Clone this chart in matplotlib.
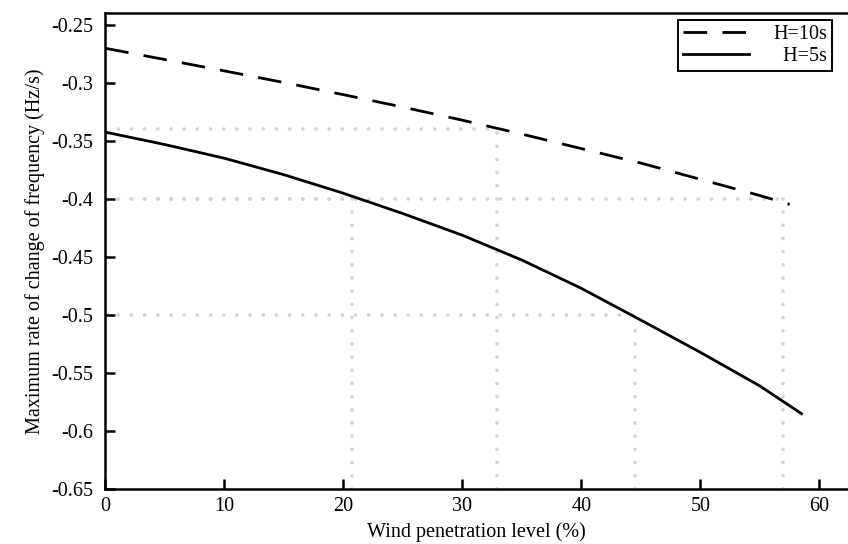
import matplotlib
matplotlib.use('Agg')
import matplotlib.pyplot as plt

# wind penetration level (%)
x_h10 = [0, 5, 10, 15, 20, 25, 30, 35, 40, 45, 50, 55, 57.5]
y_h10 = [-0.270, -0.2797, -0.2895, -0.2995, -0.310, -0.3207, -0.332,
         -0.344, -0.3565, -0.369, -0.383, -0.397, -0.4046]

x_h5 = [0, 5, 10, 15, 20, 25, 30, 35, 40, 45, 50, 55, 58.5]
y_h5 = [-0.3423, -0.3530, -0.3648, -0.3790, -0.3950, -0.4125, -0.4312,
        -0.4526, -0.4770, -0.5044, -0.5322, -0.5612, -0.5851]

# reference read-offs (x, y)
ref_x = [20.7, 32.9, 44.5, 56.9]
ref_y = [-0.40, -0.34, -0.50, -0.40]

plt.rcParams['font.family'] = ['Liberation Serif', 'DejaVu Serif']
plt.rcParams['font.size'] = 14.5

fig = plt.figure(figsize=(8.48, 5.44), dpi=100)
ax = fig.add_axes([0.1242, 0.1011, 0.8758, 0.8756])

ymin = -0.65
for xr, yr in zip(ref_x, ref_y):
    ax.plot([0, xr], [yr, yr], color='#d3d3d3', lw=2.6, linestyle=(0, (0.05, 3.6)),
            dash_capstyle='round', zorder=1)
    ax.plot([xr, xr], [ymin, yr], color='#d3d3d3', lw=2.6, linestyle=(0, (0.05, 3.6)),
            dash_capstyle='round', zorder=1)

l1, = ax.plot(x_h10, y_h10, color='black', lw=2, label='H=10s', zorder=3)
l1.set_dashes((8.5, 5.5))
ax.plot(x_h5, y_h5, color='black', lw=2, label='\u2007H=5s', zorder=3)

ax.set_xlim(0, 62.4)
ax.set_ylim(-0.65, -0.2393)
ax.set_xticks([0, 10, 20, 30, 40, 50, 60])
ax.set_yticks([-0.65, -0.6, -0.55, -0.5, -0.45, -0.4, -0.35, -0.3, -0.25])
ax.set_yticklabels(['-0.65', '-0.6', '-0.55', '-0.5', '-0.45', '-0.4', '-0.35', '-0.3', '-0.25'])

for s in ['left', 'bottom', 'top']:
    ax.spines[s].set_linewidth(1.8)
ax.spines['right'].set_visible(False)
ax.tick_params(direction='in', length=7, width=1.8, top=False, right=False)
ax.tick_params(axis='y', pad=9)
ax.tick_params(axis='x', pad=6)

ax.set_xlabel('Wind penetration level (%)', labelpad=4)
ax.set_ylabel('Maximum rate of change of frequency (Hz/s)', labelpad=4)

leg = ax.legend(loc='upper right', bbox_to_anchor=(0.984, 0.994), fancybox=False,
                edgecolor='black', handlelength=3.3, borderpad=0.25,
                labelspacing=0.15, handletextpad=1.2, borderaxespad=0.2)
leg.get_frame().set_linewidth(1.4)
leg.get_frame().set_alpha(1)

fig.savefig('out.png', dpi=100)
